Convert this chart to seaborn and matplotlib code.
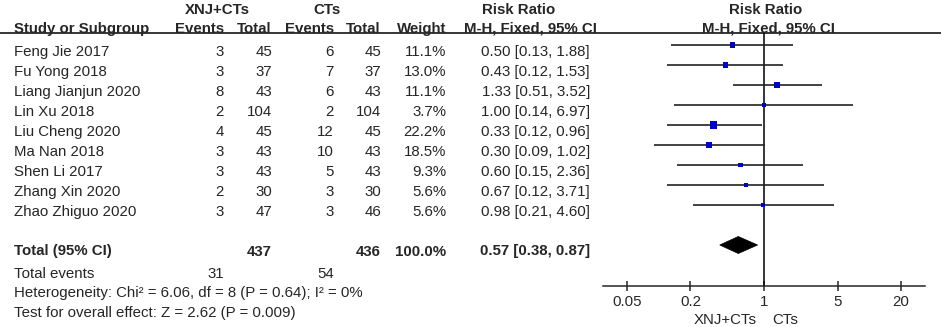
import numpy as np
import pandas as pd
import matplotlib
matplotlib.use("Agg")
import matplotlib.pyplot as plt
import seaborn as sns
from matplotlib.patches import Polygon

# ---------------- data ----------------
studies = ["Feng Jie 2017", "Fu Yong 2018", "Liang Jianjun 2020", "Lin Xu 2018",
           "Liu Cheng 2020", "Ma Nan 2018", "Shen Li 2017", "Zhang Xin 2020",
           "Zhao Zhiguo 2020"]
exp_events = [3, 3, 8, 2, 4, 3, 3, 2, 3]
exp_total = [45, 37, 43, 104, 45, 43, 43, 30, 47]
ctl_events = [6, 7, 6, 2, 12, 10, 5, 3, 3]
ctl_total = [45, 37, 43, 104, 45, 43, 43, 30, 46]
weights = [11.1, 13.0, 11.1, 3.7, 22.2, 18.5, 9.3, 5.6, 5.6]
rr = [0.50, 0.43, 1.33, 1.00, 0.33, 0.30, 0.60, 0.67, 0.98]
ci_low = [0.13, 0.12, 0.51, 0.14, 0.12, 0.09, 0.15, 0.12, 0.21]
ci_high = [1.88, 1.53, 3.52, 6.97, 0.96, 1.02, 2.36, 3.71, 4.60]

total_exp = 437
total_ctl = 436
total_weight = 100.0
pooled_rr = 0.57
pooled_low = 0.38
pooled_high = 0.87
events_exp = 31
events_ctl = 54
heterogeneity_text = "Heterogeneity: Chi² = 6.06, df = 8 (P = 0.64); I² = 0%"
overall_text = "Test for overall effect: Z = 2.62 (P = 0.009)"

x_ticks = [0.05, 0.2, 1, 5, 20]
x_tick_labels = ["0.05", "0.2", "1", "5", "20"]
favours_left = "XNJ+CTs"
favours_right = "CTs"

# ---------------- style ----------------
sns.set_style("white")
plt.rcParams["font.family"] = ["Liberation Sans", "DejaVu Sans"]
FS = 10.8
BLUE = "#0000CC"

W, H = 941, 327
fig = plt.figure(figsize=(W / 100, H / 100), dpi=100)

# text layer: x in pixels, y in row units (row i text centre at 50 + 20 i px)
ax_t = fig.add_axes([0, 0, 1, 1])
ax_t.set_xlim(0, W)
OFF = 1.5  # small downward shift so glyph centres sit on the row
ax_t.set_ylim((H - 50 - OFF) / 20, (-50 - OFF) / 20)
ax_t.axis("off")

def row_of(px):
    return (px - 50) / 20

df = pd.DataFrame({
    "study": studies, "e_ev": exp_events, "e_tot": exp_total,
    "c_ev": ctl_events, "c_tot": ctl_total, "weight": weights,
    "rr": rr, "lo": ci_low, "hi": ci_high,
})
df["row"] = np.arange(len(df))

# headers
hb = dict(fontsize=FS, fontweight="bold", va="center")
ax_t.text(217, row_of(8), "XNJ+CTs", ha="center", **hb)
ax_t.text(327, row_of(8), "CTs", ha="center", **hb)
ax_t.text(519, row_of(8), "Risk Ratio", ha="center", **hb)
ax_t.text(766, row_of(8), "Risk Ratio", ha="center", **hb)
ax_t.text(14, row_of(27), "Study or Subgroup", ha="left", **hb)
ax_t.text(224, row_of(27), "Events", ha="right", **hb)
ax_t.text(272, row_of(27), "Total", ha="right", **hb)
ax_t.text(334, row_of(27), "Events", ha="right", **hb)
ax_t.text(381, row_of(27), "Total", ha="right", **hb)
ax_t.text(446, row_of(27), "Weight", ha="right", **hb)
ax_t.text(530, row_of(27), "M-H, Fixed, 95% CI", ha="center", **hb)
ax_t.text(768, row_of(27), "M-H, Fixed, 95% CI", ha="center", **hb)
ax_t.plot([0, W], [row_of(33 - OFF), row_of(33 - OFF)], color="black", lw=1.1)

# study rows
tn = dict(fontsize=FS, va="center")
for _, r in df.iterrows():
    y = r["row"]
    ax_t.text(14, y, r["study"], ha="left", **tn)
    ax_t.text(224, y, f"{r['e_ev']}", ha="right", **tn)
    ax_t.text(272, y, f"{r['e_tot']}", ha="right", **tn)
    ax_t.text(334, y, f"{r['c_ev']}", ha="right", **tn)
    ax_t.text(381, y, f"{r['c_tot']}", ha="right", **tn)
    ax_t.text(446, y, f"{r['weight']:.1f}%", ha="right", **tn)
    ax_t.text(590, y, f"{r['rr']:.2f} [{r['lo']:.2f}, {r['hi']:.2f}]", ha="right", **tn)

# total rows
yt = len(df) + 1
ax_t.text(14, yt, "Total (95% CI)", ha="left", **hb)
ax_t.text(272, yt, f"{total_exp}", ha="right", **hb)
ax_t.text(381, yt, f"{total_ctl}", ha="right", **hb)
ax_t.text(446, yt, f"{total_weight:.1f}%", ha="right", **hb)
ax_t.text(590, yt, f"{pooled_rr:.2f} [{pooled_low:.2f}, {pooled_high:.2f}]", ha="right", **hb)
ax_t.text(14, row_of(272), "Total events", ha="left", **tn)
ax_t.text(224, row_of(272), f"{events_exp}", ha="right", **tn)
ax_t.text(334, row_of(272), f"{events_ctl}", ha="right", **tn)
ax_t.text(14, row_of(292), heterogeneity_text, ha="left", **tn)
ax_t.text(14, row_of(312), overall_text, ha="left", **tn)

# favours labels
ax_t.text(757, row_of(319), favours_left, ha="right", **tn)
ax_t.text(772, row_of(319), favours_right, ha="left", **tn)

# ---------------- forest axes ----------------
x0, x1, ytop, ybot = 603, 925, 33, 286
ax_f = fig.add_axes([x0 / W, (H - ybot) / H, (x1 - x0) / W, (ybot - ytop) / H])
ax_f.set_facecolor("none")
ax_f.set_xscale("log")
half = 1.529
ax_f.set_xlim(10 ** -half, 10 ** half)
# forest row i drawn at 45 + 20 i px
ax_f.set_ylim((ybot - 45) / 20, (ytop - 45) / 20)

ax_f.axvline(1, color="black", lw=1.1, zorder=1)
ax_f.hlines(df["row"], df["lo"], df["hi"], color="#222222", lw=1.2, zorder=2)
sns.scatterplot(data=df, x="rr", y="row", size="weight", sizes=(5, 26),
                marker="s", color=BLUE, linewidth=0, legend=False, ax=ax_f, zorder=3)

dh = 8.5 / 20
diamond = Polygon([(pooled_low, yt), (pooled_rr, yt - dh), (pooled_high, yt), (pooled_rr, yt + dh)],
                  closed=True, facecolor="black", edgecolor="black", lw=0.5, zorder=3)
ax_f.add_patch(diamond)

for s in ["top", "right", "left"]:
    ax_f.spines[s].set_visible(False)
ax_f.spines["bottom"].set_linewidth(1.1)
ax_f.set_yticks([])
ax_f.set_xticks(x_ticks)
ax_f.set_xticklabels(x_tick_labels, fontsize=FS)
ax_f.minorticks_off()
ax_f.tick_params(axis="x", direction="inout", length=7, width=1.1, pad=3, bottom=True)
ax_f.set_xlabel("")
ax_f.set_ylabel("")

fig.savefig("out.png", dpi=100)
